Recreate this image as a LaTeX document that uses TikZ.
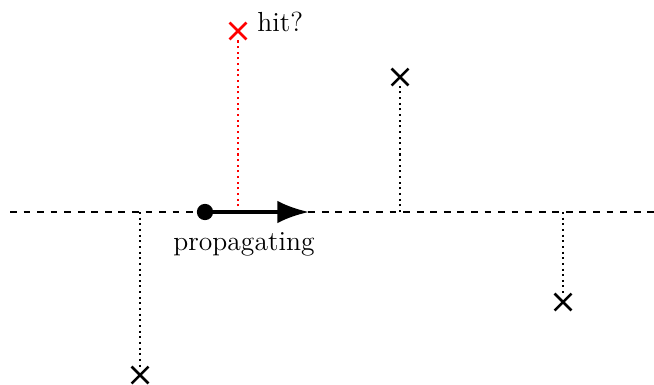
\documentclass[tikz,border=0pt]{standalone}
\usetikzlibrary{arrows.meta,shapes.misc}
\begin{document}
\begin{tikzpicture}[x=0.4425pt,y=-0.4425pt,
  xmark/.style={draw, cross out, line width=1.1pt, inner sep=0pt, minimum size=6.4pt},
  drop/.style={line width=0.95pt, dash pattern=on 0.9pt off 1.6pt},
  axisline/.style={thick, dashed},
  lbl/.style={font=\fontsize{12.2}{14}\selectfont, inner sep=0pt}]
\useasboundingbox (0,0) rectangle (654,384);
% main line
\coordinate (L) at (10,212);
\coordinate (R) at (654,212);
\draw[axisline] (L) -- (R);
% foot points on the line
\coordinate (f1) at (140,212);
\coordinate (f2) at (238,212);
\coordinate (f3) at (400,212);
\coordinate (f4) at (563,212);
% crosses
\node[xmark, red] (x2) at (238,31) {};
\node[xmark] (x3) at (400,77) {};
\node[xmark] (x4) at (563,302) {};
\node[xmark] (x1) at (140,375) {};
% dotted drops
\draw[drop] (f1) -- (x1);
\draw[drop, red] (f2) -- (x2);
\draw[drop] (f3) -- (x3);
\draw[drop] (f4) -- (x4);
% propagating ray
\node[circle, fill, inner sep=0pt, minimum size=7.2pt] (dot) at (205,212) {};
\coordinate (tip) at (309,212);
\draw[line width=1.75pt, -{Latex[length=14pt, width=10pt]}] (dot.center) -- (tip);
% labels
\node[lbl, anchor=base] (prop) at (244,250) {propagating};
\node[lbl, anchor=base west] (hit) at (257,31.5) {hit?};
\end{tikzpicture}
\end{document}
